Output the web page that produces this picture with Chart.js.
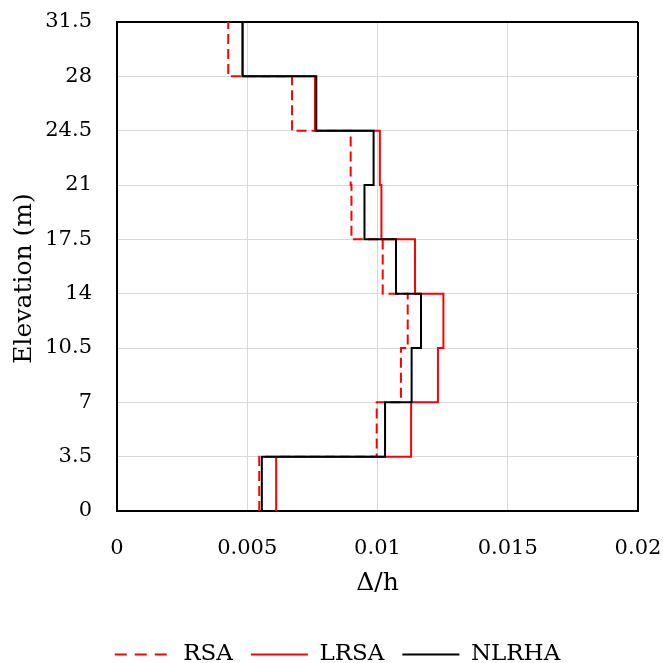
<!DOCTYPE html>
<html>
<head>
<meta charset="utf-8">
<script src="https://cdn.jsdelivr.net/npm/chart.js@4.4.1/dist/chart.umd.min.js"></script>
<style>
  html, body { margin: 0; padding: 0; background: #fff; }
  #wrap { width: 663px; height: 663px; }
</style>
</head>
<body>
<div id="wrap"><canvas id="driftchart" width="663" height="663"></canvas></div>
<script>
// story levels (m), bottom to top
const levels = [0, 3.5, 7, 10.5, 14, 17.5, 21, 24.5, 28, 31.5];
const yTickLabels = ["0", "3.5", "7", "10.5", "14", "17.5", "21", "24.5", "28", "31.5"];
const xTickLabels = ["0", "0.005", "0.01", "0.015", "0.02"];

// interstory drift per story (story 1 first)
const rsa   = [0.00546, 0.00997, 0.0109, 0.01116, 0.0102, 0.0090, 0.00897, 0.00672, 0.00427];
const lrsa  = [0.00611, 0.01129, 0.01232, 0.01253, 0.01144, 0.01015, 0.01009, 0.0076, 0.00482];
const nlrha = [0.00556, 0.01029, 0.01131, 0.01167, 0.01071, 0.0095, 0.00985, 0.00765, 0.00482];

// turn per-story values into a stepped elevation profile
function profile(vals) {
    const pts = [];
    vals.forEach((v, i) => {
        pts.push({ x: v, y: levels[i] });
        pts.push({ x: v, y: levels[i + 1] });
    });
    return pts;
}

const tickFont = { family: "DejaVu Serif", size: 21 };
const titleFont = { family: "DejaVu Serif", size: 25 };
const legendFont = { family: "DejaVu Serif", size: 23 };

const ctx = document.getElementById("driftchart").getContext("2d");
new Chart(ctx, {
    type: "scatter",
    data: {
        datasets: [
            {
                label: "RSA",
                data: profile(rsa),
                borderColor: "#ff0000",
                borderWidth: 2,
                borderDash: [10, 5],
                showLine: true,
                pointRadius: 0,
                order: 2
            },
            {
                label: "LRSA",
                data: profile(lrsa),
                borderColor: "#ff0000",
                borderWidth: 2,
                showLine: true,
                pointRadius: 0,
                order: 1
            },
            {
                label: "NLRHA",
                data: profile(nlrha),
                borderColor: "#000000",
                borderWidth: 2,
                showLine: true,
                pointRadius: 0,
                order: 0
            }
        ]
    },
    options: {
        responsive: false,
        animation: false,
        layout: { padding: { top: 22, right: -12, left: 0, bottom: -13 } },
        plugins: {
            tooltip: { enabled: false },
            legend: {
                position: "bottom",
                labels: {
                    font: legendFont,
                    color: "#000",
                    usePointStyle: true,
                    pointStyle: "line",
                    pointStyleWidth: 57,
                    padding: 18,
                    sort: (a, b) => a.datasetIndex - b.datasetIndex,
                    generateLabels: chart =>
                        Chart.defaults.plugins.legend.labels.generateLabels(chart).map(item => {
                            const ds = chart.data.datasets[item.datasetIndex];
                            item.lineDash = ds.borderDash ? [12, 8] : [];
                            item.lineWidth = ds.borderWidth;
                            item.strokeStyle = ds.borderColor;
                            item.pointStyle = "line";
                            return item;
                        })
                }
            }
        },
        scales: {
            x: {
                type: "linear",
                min: 0,
                max: 0.02,
                afterFit: scale => {
                    scale.height = 114;
                    scale.paddingLeft = 0;
                    scale.paddingRight = 25;
                },
                ticks: {
                    stepSize: 0.005,
                    padding: 25,
                    color: "#000",
                    font: tickFont,
                    callback: (value, index) => xTickLabels[index]
                },
                grid: {
                    drawTicks: false,
                    color: c => (c.tick && c.tick.value >= 0.02 ? "#000" : "#d9d9d9"),
                    lineWidth: c => (c.tick && c.tick.value >= 0.02 ? 2 : 1)
                },
                border: { color: "#000", width: 2 },
                title: {
                    display: true,
                    text: "Δ/h",
                    color: "#000",
                    font: titleFont,
                    padding: { top: 0, bottom: 27 }
                }
            },
            y: {
                type: "linear",
                min: 0,
                max: 31.5,
                afterFit: scale => {
                    scale.width = 117;
                    scale.paddingTop = 0;
                    scale.paddingBottom = 0;
                },
                ticks: {
                    stepSize: 3.5,
                    padding: 25,
                    color: "#000",
                    font: tickFont,
                    callback: (value, index) => yTickLabels[index]
                },
                grid: {
                    drawTicks: false,
                    color: c => (c.tick && c.tick.value >= 31.5 ? "#000" : "#d9d9d9"),
                    lineWidth: c => (c.tick && c.tick.value >= 31.5 ? 2 : 1)
                },
                border: { color: "#000", width: 2 },
                title: {
                    display: true,
                    text: "Elevation (m)   ",
                    color: "#000",
                    font: titleFont,
                    padding: { top: 9, bottom: 0 }
                }
            }
        }
    }
});
</script>
</body>
</html>
